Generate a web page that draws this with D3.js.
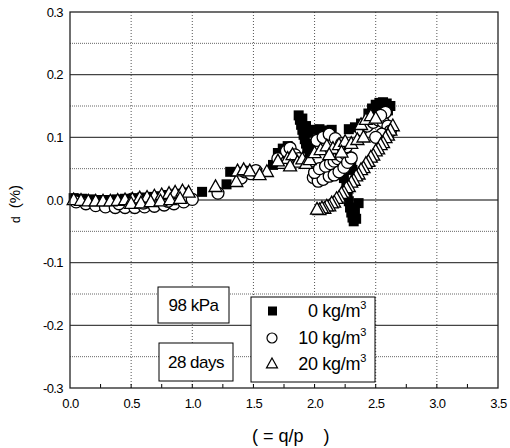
<!DOCTYPE html>
<html>
<head>
<meta charset="utf-8">
<script src="https://cdn.jsdelivr.net/npm/d3@7"></script>
<style>
  html, body { margin: 0; padding: 0; background: #fff; }
  svg { display: block; font-family: "Liberation Sans", Arial, sans-serif; }
</style>
</head>
<body>
<svg id="chart" width="510" height="448"></svg>
<script>
// Stress ratio (q/p') vs. strain (%) for three fibre contents
const fibre0 = [
  [0.03,0.003],[0.10,0.002],[0.17,0.001],[0.24,0.000],[0.31,0.000],[0.38,0.001],[0.45,0.002],
  [0.52,0.003],[0.59,0.004],[0.66,0.005],[0.73,0.006],[0.80,0.008],[0.87,0.010],[0.94,0.012],
  [1.08,0.013],[1.28,0.025],[1.31,0.045],[1.46,0.045],[1.66,0.056],[1.70,0.075],[1.74,0.082],[1.78,0.086],
  [1.87,0.135],[1.88,0.128],[1.89,0.120],[1.90,0.112],[1.91,0.104],[1.92,0.097],[1.93,0.090],[1.94,0.082],
  [1.90,0.130],[1.93,0.118],[1.95,0.108],[1.96,0.076],[1.97,0.088],
  [1.99,0.112],[2.04,0.113],[2.09,0.111],[2.14,0.112],[2.28,0.113],[2.33,0.116],[2.38,0.122],
  [2.44,0.138],[2.47,0.146],[2.50,0.152],[2.53,0.155],[2.56,0.156],[2.59,0.154],[2.62,0.150],
  [2.60,0.143],[2.55,0.147],[2.50,0.142],[2.47,0.135],
  [2.20,0.055],[2.23,0.048],[2.26,0.075],[2.28,0.065],[2.30,0.058],[2.31,0.048],[2.24,0.035],[2.26,0.025],
  [2.27,0.010],[2.28,-0.002],[2.29,-0.012],[2.30,-0.020],[2.31,-0.028],[2.32,-0.034],[2.34,-0.030],
  [2.33,-0.018],[2.36,-0.005]
];
const fibre10 = [
  [0.05,-0.003],[0.13,-0.006],[0.21,-0.009],[0.29,-0.011],[0.37,-0.012],[0.45,-0.012],[0.53,-0.012],
  [0.61,-0.011],[0.69,-0.010],[0.77,-0.008],[0.85,-0.006],[0.93,-0.003],[1.00,0.001],
  [0.40,-0.006],[0.60,-0.005],[0.80,-0.002],
  [1.21,0.011],[1.40,0.035],[1.43,0.045],[1.48,0.042],[1.52,0.047],[1.70,0.066],[1.77,0.078],
  [1.80,0.083],[1.84,0.072],[1.87,0.066],
  [1.99,0.036],[2.02,0.040],[2.05,0.044],[2.08,0.046],[2.11,0.048],[2.14,0.050],[2.17,0.053],
  [2.20,0.058],[2.03,0.030],[2.07,0.033],[2.12,0.038],
  [2.00,0.044],[2.04,0.050],[2.09,0.054],[2.13,0.058],[2.16,0.062],[2.19,0.066],[2.22,0.070],
  [2.25,0.074],[2.16,0.040],[2.20,0.045],[2.24,0.052],[2.27,0.060],[2.30,0.067],
  [2.02,0.095],[2.07,0.100],[2.12,0.105],[2.17,0.098],[2.22,0.090],[2.26,0.085],
  [2.38,0.112],[2.43,0.118],[2.48,0.124],[2.52,0.128],[2.56,0.125],[2.60,0.118],[2.62,0.110],
  [2.55,0.105],[2.50,0.100],[2.58,0.140],[2.54,0.135]
];
const fibre20 = [
  [0.03,0.000],[0.09,-0.001],[0.15,-0.002],[0.21,-0.002],[0.27,-0.002],[0.33,-0.002],[0.39,-0.001],
  [0.45,0.000],[0.51,0.001],[0.57,0.003],[0.63,0.004],[0.69,0.006],[0.75,0.008],[0.81,0.010],
  [0.86,0.012],[0.92,0.014],[0.97,0.012],
  [0.50,-0.006],[0.58,-0.005],[0.66,-0.003],[0.74,-0.002],[0.82,0.000],[0.90,0.002],
  [1.19,0.021],[1.36,0.029],[1.37,0.046],[1.42,0.048],[1.47,0.046],[1.61,0.045],[1.55,0.040],
  [1.74,0.058],[1.78,0.066],[1.82,0.072],[1.86,0.060],[1.90,0.065],[1.93,0.058],[1.96,0.064],
  [1.80,0.054],[1.70,0.062],
  [2.00,0.075],[2.05,0.080],[2.10,0.086],[2.15,0.082],[2.20,0.088],[2.25,0.093],[2.30,0.090],
  [2.35,0.096],[2.40,0.100],[2.12,0.072],[2.22,0.076],
  [2.38,0.120],[2.42,0.128],[2.46,0.134],[2.50,0.130],
  [2.64,0.118],[2.62,0.111],[2.60,0.103],[2.58,0.099],[2.56,0.091],[2.54,0.088],[2.52,0.081],
  [2.50,0.078],[2.48,0.071],[2.46,0.068],[2.44,0.061],[2.42,0.058],[2.40,0.051],[2.38,0.048],
  [2.36,0.041],[2.34,0.038],[2.32,0.031],[2.30,0.028],[2.28,0.021],[2.26,0.019],[2.24,0.012],
  [2.22,0.010],[2.20,0.004],[2.18,0.002],[2.16,-0.004],[2.14,-0.005],[2.12,-0.010],[2.10,-0.010],
  [2.08,-0.014],[2.06,-0.013],[2.04,-0.016],[2.02,-0.015]
];

const xTicks = [0, 0.5, 1.0, 1.5, 2.0, 2.5, 3.0, 3.5];
const yTicks = [-0.3, -0.2, -0.1, 0.0, 0.1, 0.2, 0.3];
const legendLabels = ["0 kg/m", "10 kg/m", "20 kg/m"];
const noteLabels = ["98 kPa", "28 days"];

const svg = d3.select("#chart");
const L = 70, R = 498, T = 12, B = 388;
const x = d3.scaleLinear().domain([0, 3.5]).range([L, R]);
const y = d3.scaleLinear().domain([-0.3, 0.3]).range([B, T]);
const fmt = d => (Math.abs(d) < 1e-9 ? 0 : d).toFixed(1);

// grid
const grid = svg.append("g");
grid.selectAll("line.vx").data(xTicks.slice(1, -1)).join("line")
  .attr("x1", d => x(d)).attr("x2", d => x(d)).attr("y1", T).attr("y2", B)
  .attr("stroke", "#555").attr("stroke-width", 1).attr("stroke-dasharray", "1,2");
const minorY = [-0.25, -0.15, -0.05, 0.05, 0.15, 0.25];
grid.selectAll("line.hm").data(minorY).join("line")
  .attr("x1", L).attr("x2", R).attr("y1", d => y(d)).attr("y2", d => y(d))
  .attr("stroke", "#666").attr("stroke-width", 1).attr("stroke-dasharray", "1,1");
grid.selectAll("line.hM").data(yTicks.slice(1, -1)).join("line")
  .attr("x1", L).attr("x2", R).attr("y1", d => y(d)).attr("y2", d => y(d))
  .attr("stroke", d => d === 0 ? "#000" : "#444").attr("stroke-width", 1.2);

// axes
const xAxis = svg.append("g").attr("transform", `translate(0,${B})`)
  .call(d3.axisBottom(x).tickValues(xTicks).tickFormat(fmt).tickSize(0).tickPadding(11));
xAxis.select(".domain").remove();
xAxis.selectAll("text").attr("font-size", 13).attr("fill", "#000").attr("letter-spacing", -0.6)
  .attr("font-family", "Liberation Sans, Arial, sans-serif");

const minorX = d3.range(1, 14).map(i => i * 0.25);
svg.append("g").selectAll("line").data(minorX).join("line")
  .attr("x1", d => x(d)).attr("x2", d => x(d)).attr("y1", B).attr("y2", B - 4)
  .attr("stroke", "#000");

const yAxis = svg.append("g").attr("transform", `translate(${L},0)`)
  .call(d3.axisLeft(y).tickValues(yTicks).tickFormat(fmt).tickSize(0).tickPadding(7));
yAxis.select(".domain").remove();
yAxis.selectAll("text").attr("font-size", 13).attr("fill", "#000").attr("letter-spacing", -0.6)
  .attr("font-family", "Liberation Sans, Arial, sans-serif");

// markers
const sq = 10, cr = 6;
const tri = (cx, cy, w) => {
  const h = w * 0.9;
  return `M${cx},${cy - h * 0.6}L${cx + w / 2},${cy + h * 0.4}L${cx - w / 2},${cy + h * 0.4}Z`;
};
const marks = svg.append("g");
marks.selectAll("rect").data(fibre0).join("rect")
  .attr("x", d => x(d[0]) - sq / 2).attr("y", d => y(d[1]) - sq / 2)
  .attr("width", sq).attr("height", sq).attr("fill", "#000");
marks.selectAll("circle").data(fibre10).join("circle")
  .attr("cx", d => x(d[0])).attr("cy", d => y(d[1])).attr("r", cr)
  .attr("fill", "#fff").attr("stroke", "#000").attr("stroke-width", 1.3);
marks.selectAll("path").data(fibre20).join("path")
  .attr("d", d => tri(x(d[0]), y(d[1]), 13))
  .attr("fill", "#fff").attr("stroke", "#000").attr("stroke-width", 1.3);

// frame
svg.append("rect").attr("x", L).attr("y", T).attr("width", R - L).attr("height", B - T)
  .attr("fill", "none").attr("stroke", "#222").attr("stroke-width", 1.3);

// note boxes
const notes = [
  { text: noteLabels[0], x: 158, y: 287, w: 71, h: 36 },
  { text: noteLabels[1], x: 159, y: 343, w: 74, h: 38 }
];
notes.forEach(n => {
  svg.append("rect").attr("x", n.x).attr("y", n.y).attr("width", n.w).attr("height", n.h)
    .attr("fill", "#fff").attr("stroke", "#000").attr("stroke-width", 1);
  svg.append("text").attr("x", n.x + n.w / 2).attr("y", n.y + n.h / 2 + 6)
    .attr("text-anchor", "middle").attr("font-size", 17).attr("letter-spacing", -0.5)
    .text(n.text);
});

// legend
svg.append("rect").attr("x", 251).attr("y", 297).attr("width", 124).attr("height", 85)
  .attr("fill", "#fff").attr("stroke", "#000").attr("stroke-width", 1);
const ly = [311, 338, 364];
svg.append("rect").attr("x", 268).attr("y", ly[0] - 4.5).attr("width", 9).attr("height", 9).attr("fill", "#000");
svg.append("circle").attr("cx", 272).attr("cy", ly[1]).attr("r", 5)
  .attr("fill", "#fff").attr("stroke", "#000").attr("stroke-width", 1.2);
svg.append("path").attr("d", tri(272, ly[2], 11))
  .attr("fill", "#fff").attr("stroke", "#000").attr("stroke-width", 1.2);
legendLabels.forEach((t, i) => {
  const txt = svg.append("text").attr("x", 366).attr("y", ly[i] + 6)
    .attr("text-anchor", "end").attr("font-size", 18).attr("letter-spacing", -0.3);
  txt.append("tspan").text(t);
  txt.append("tspan").attr("font-size", 11).attr("dy", -8).text("3");
});

// axis titles
svg.append("text").attr("x", 252).attr("y", 442).attr("font-size", 18)
  .style("white-space", "pre").text("( = q/p    )");
const yl = svg.append("text").attr("transform", "translate(20,223) rotate(-90)");
yl.append("tspan").attr("font-size", 12).text("d");
yl.append("tspan").attr("font-size", 15).attr("dx", 8).text("(%)");
</script>
</body>
</html>
